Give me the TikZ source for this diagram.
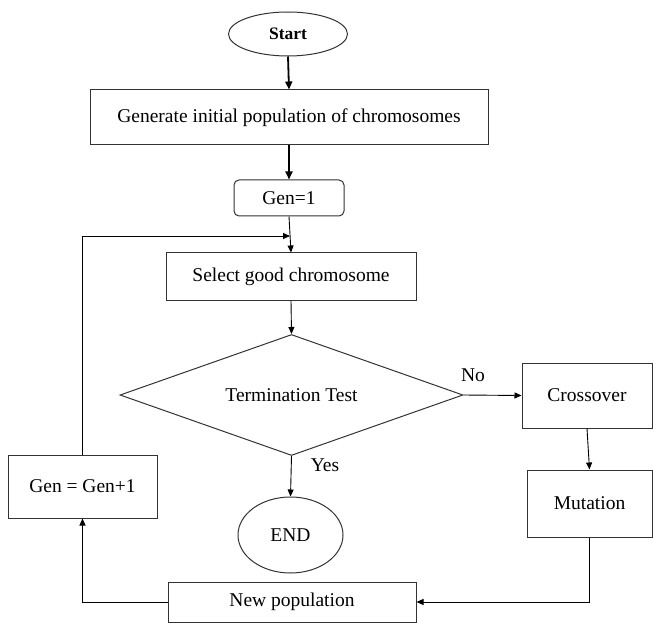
\documentclass[tikz,border=0pt]{standalone}
\usepackage{fontspec}
\setmainfont{Liberation Serif}
\usetikzlibrary{shapes.geometric,arrows.meta}
\begin{document}
\begin{tikzpicture}[x=1pt,y=-1pt,
  box/.style={draw=black!80,line width=1pt,rectangle,inner sep=2pt,font=\fontsize{19.5}{22}\selectfont},
  conn/.style={draw=black,line width=0.9pt,-{Triangle[length=7pt,width=6pt]}},
  thickconn/.style={draw=black,line width=1.8pt,-{Triangle[length=8pt,width=7pt]}},
  lbl/.style={font=\fontsize{19.5}{22}\selectfont}]
\useasboundingbox (0,0) rectangle (654,623);
\node[box,ellipse,minimum width=119pt,minimum height=44pt,font=\fontsize{17.5}{20}\selectfont\bfseries] (start) at (288,34) {Start};
\node[box,minimum width=398pt,minimum height=55pt] (gen0) at (289,117.5) {Generate initial population of chromosomes};
\node[box,rounded corners=5pt,minimum width=110pt,minimum height=36pt] (gen1) at (289,198) {Gen=1};
\node[box,minimum width=250pt,minimum height=47pt] (sel) at (291,276.5) {Select good chromosome};
\node[box,diamond,shape aspect=2.83,inner sep=0pt,minimum width=343pt,minimum height=121pt] (test) at (291.5,395) {Termination Test};
\node[box,minimum width=130pt,minimum height=65pt] (cross) at (587,395.5) {Crossover};
\node[box,minimum width=125pt,minimum height=67pt] (mut) at (589.5,503.5) {Mutation};
\node[box,ellipse,minimum width=105pt,minimum height=76pt] (end) at (290.5,535) {END};
\node[box,minimum width=248pt,minimum height=40pt] (newp) at (292,602) {New population};
\node[box,minimum width=149pt,minimum height=63pt] (genp) at (82.5,486.5) {Gen = Gen+1};
\coordinate (join) at (290,236);
\node[lbl] (no) at (473,375) {No};
\node[lbl] (yes) at (325,465) {Yes};
\draw[thickconn] (start.south) -- (gen0.north);
\draw[thickconn] (gen0.south) -- (gen1.north);
\draw[conn] (gen1.south) -- (sel.north);
\draw[conn] (genp.north) |- (join);
\draw[conn] (sel.south) -- (test.north);
\draw[conn] (test.east) -- (cross.west);
\draw[conn] (test.south) -- (end.north);
\draw[conn] (cross.south) -- (mut.north);
\draw[conn] (mut.south) |- (newp.east);
\draw[conn] (newp.west) -| (genp.south);
\end{tikzpicture}
\end{document}
